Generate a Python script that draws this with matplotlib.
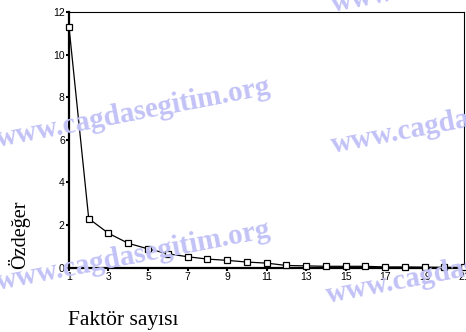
import matplotlib
matplotlib.use("Agg")
import matplotlib.pyplot as plt

# eigenvalues of the factor analysis (scree plot)
factors     = list(range(1, 22))
eigenvalues = [11.31, 2.30, 1.61, 1.14, 0.88, 0.65, 0.51, 0.40, 0.34, 0.26,
               0.21, 0.10, 0.08, 0.06, 0.06, 0.06, 0.03, 0.03, 0.02, 0.01, 0.01]
xticks      = list(range(1, 22, 2))
yticks      = [0, 2, 4, 6, 8, 10, 12]

fig = plt.figure(figsize=(4.66, 3.32), dpi=100)
ax = fig.add_axes([0.148, 0.194, 0.848, 0.770])

ax.plot(factors, eigenvalues, color="black", lw=0.9, marker="s", ms=5,
        mfc="white", mec="black", mew=0.9, clip_on=False, zorder=3)

ax.set_xlim(1, 21)
ax.set_ylim(0, 12)
ax.set_xticks(xticks)
ax.set_yticks(yticks)
ax.tick_params(direction="out", length=2, width=1.5, labelsize=7.5, pad=1)
for lab in ax.get_xticklabels() + ax.get_yticklabels():
    lab.set_fontfamily("Liberation Sans")

ax.spines["left"].set_linewidth(1.6)
ax.spines["bottom"].set_linewidth(1.6)
ax.spines["top"].set_linewidth(0.8)
ax.spines["right"].set_linewidth(0.8)

fig.text(0.146, 0.02, "Faktör sayısı", fontsize=15.5, family="Liberation Serif",
         ha="left", va="baseline")
fig.text(0.042, 0.292, "Özdeğer", fontsize=14.5, family="Liberation Serif",
         rotation=90, ha="center", va="center")

# site watermark
wm = dict(fontsize=21, family="Liberation Serif", weight="bold", color="#c2c2f7",
          rotation=11, rotation_mode="anchor", ha="left", va="baseline", zorder=0)
for x, y in [(-2, 147), (-2, 290), (333, 12), (333, 153), (328, 303)]:
    fig.text(x / 466, 1 - y / 332, "www.cagdasegitim.org", **wm)

fig.savefig("out.png", dpi=100)
